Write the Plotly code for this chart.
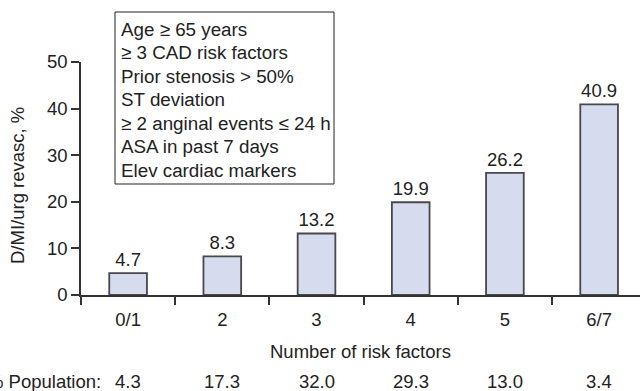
import plotly.graph_objects as go

categories = ["0/1", "2", "3", "4", "5", "6/7"]
event_rates = [4.7, 8.3, 13.2, 19.9, 26.2, 40.9]
population_pct = ["4.3", "17.3", "32.0", "29.3", "13.0", "3.4"]
y_ticks = [0, 10, 20, 30, 40, 50]
risk_factor_lines = [
    "Age \u2265 65 years",
    "\u2265 3 CAD risk factors",
    "Prior stenosis > 50%",
    "ST deviation",
    "\u2265 2 anginal events \u2264 24 h",
    "ASA in past 7 days",
    "Elev cardiac markers",
]

FONT = "Liberation Sans, Arial, sans-serif"
TXT = "#222222"
AX = "#333333"
FS = 18.5

# plot area in pixels: x 81..640, y 62..295
def px_x(p):
    return (p - 81) / 559.0

def px_y(p):
    return (295 - p) / 233.0

fig = go.Figure()
fig.add_trace(go.Bar(
    x=list(range(len(categories))), y=event_rates,
    text=[f"{v:.1f}" for v in event_rates],
    textposition="outside",
    textfont=dict(size=FS, color=TXT, family=FONT),
    cliponaxis=False,
    width=0.40,
    marker=dict(color="#d6dcee", line=dict(color="#47474d", width=1.8)),
))

# legend-like box listing the risk factors
fig.add_shape(type="rect", xref="paper", yref="paper",
              x0=px_x(115), x1=px_x(334), y0=px_y(184), y1=px_y(12),
              line=dict(color="#222222", width=1), fillcolor="white", layer="above")

annotations = []
for k, line in enumerate(risk_factor_lines):
    annotations.append(dict(text=line, xref="paper", yref="paper",
                            x=px_x(119), y=px_y(29 + 23.5 * k), xanchor="left",
                            yanchor="middle", showarrow=False,
                            font=dict(size=18.8, color=TXT, family=FONT)))

annotations += [
    dict(text="D/MI/urg revasc, %", xref="paper", yref="paper",
         x=px_x(17), y=px_y(186), xanchor="center", yanchor="middle", textangle=-90,
         showarrow=False, font=dict(size=FS, color=TXT, family=FONT)),
    dict(text="Number of risk factors", xref="paper", yref="paper",
         x=0.5, y=px_y(351), xanchor="center", yanchor="middle",
         showarrow=False, font=dict(size=FS, color=TXT, family=FONT)),
    dict(text="% Population:", xref="paper", yref="paper",
         x=px_x(103), y=px_y(381), xanchor="right", yanchor="middle",
         showarrow=False, font=dict(size=FS, color=TXT, family=FONT)),
]
for i, p in enumerate(population_pct):
    annotations.append(dict(text=p, xref="x", yref="paper", x=i, y=px_y(381),
                            xanchor="center", yanchor="middle", showarrow=False,
                            font=dict(size=FS, color=TXT, family=FONT)))

fig.update_layout(
    width=640, height=391,
    margin=dict(l=81, r=0, t=62, b=96),
    paper_bgcolor="white", plot_bgcolor="white",
    showlegend=False,
    font=dict(family=FONT, color=TXT, size=FS),
    annotations=annotations,
    xaxis=dict(
        range=[-0.5, 5.434],
        tickmode="array", tickvals=list(range(len(categories))), ticktext=categories,
        ticks="", ticklabelstandoff=7, showline=True, linecolor=AX, linewidth=1.5,
        showgrid=False, zeroline=False,
        tickfont=dict(size=FS, color=TXT, family=FONT),
        minor=dict(tickmode="array", tickvals=[i - 0.5 for i in range(len(categories))],
                   ticks="outside", ticklen=8, tickwidth=1.5, tickcolor=AX, showgrid=False),
    ),
    yaxis=dict(
        range=[0, 50], tickvals=y_ticks, ticks="outside", ticklen=8,
        tickwidth=1.5, tickcolor=AX, showline=True, linecolor=AX, linewidth=1.5,
        showgrid=False, zeroline=False,
        tickfont=dict(size=FS, color=TXT, family=FONT),
    ),
)

fig.write_html("out.html", config={"displayModeBar": False},
               post_script="document.body.style.margin='0px';")
